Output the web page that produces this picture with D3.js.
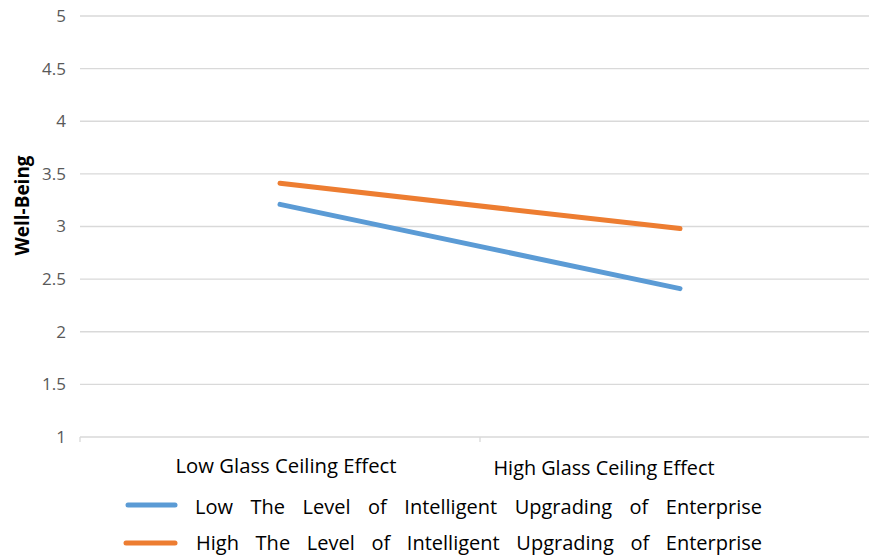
<!DOCTYPE html>
<html>
<head>
<meta charset="utf-8">
<script src="https://cdn.jsdelivr.net/npm/d3@7/dist/d3.min.js"></script>
<style>
  html, body { margin: 0; padding: 0; background: #fff; }
  svg { display: block; }
  text { font-family: "Open Sans", "Liberation Sans", sans-serif; }
</style>
</head>
<body>
<svg id="chart" width="869" height="555"></svg>
<script>
// Simple-slope data: well-being by glass ceiling level, for low/high intelligent upgrading
const categories = ["Low Glass Ceiling Effect", "High Glass Ceiling Effect"];
const seriesNames = [
  "Low  The  Level  of  Intelligent  Upgrading  of  Enterprise",
  "High  The  Level  of  Intelligent  Upgrading  of  Enterprise"
];
const lowUpgrading = [3.21, 2.41];
const highUpgrading = [3.41, 2.98];
const yTicks = [1, 1.5, 2, 2.5, 3, 3.5, 4, 4.5, 5];
const yTitle = "Well-Being";

const colors = ["#5b9bd5", "#ed7d31"];
const series = [lowUpgrading, highUpgrading];

const svg = d3.select("#chart");
const plot = { left: 80, right: 880, top: 16, bottom: 437 };

const x = d3.scaleBand().domain(categories).range([plot.left, plot.right]);
const y = d3.scaleLinear().domain([1, 5]).range([plot.bottom, plot.top]);

// Horizontal gridlines
svg.append("g")
  .selectAll("line")
  .data(yTicks.filter(t => t !== 1))
  .join("line")
  .attr("x1", plot.left).attr("x2", 869)
  .attr("y1", d => y(d)).attr("y2", d => y(d))
  .attr("stroke", "#d9d9d9").attr("stroke-width", 1.3);

// Y axis labels
const yAxis = d3.axisLeft(y).tickValues(yTicks).tickSize(0).tickPadding(14)
  .tickFormat(d3.format("~g"));
const yg = svg.append("g").attr("transform", `translate(${plot.left},0)`).call(yAxis);
yg.select(".domain").remove();
yg.selectAll("text")
  .attr("fill", "#595959")
  .style("font-size", "17px");

// X axis baseline with category boundary ticks
const xg = svg.append("g");
xg.append("line")
  .attr("x1", plot.left).attr("x2", 869)
  .attr("y1", y(1)).attr("y2", y(1))
  .attr("stroke", "#d9d9d9").attr("stroke-width", 1.3);
xg.selectAll("line.tick")
  .data(categories)
  .join("line")
  .attr("class", "tick")
  .attr("x1", d => x(d)).attr("x2", d => x(d))
  .attr("y1", y(1)).attr("y2", y(1) + 5)
  .attr("stroke", "#d9d9d9").attr("stroke-width", 1.3);

// Category labels
const catOffsets = [6, -76];
const catDrop = [36, 38];
xg.selectAll("text.cat")
  .data(categories)
  .join("text")
  .attr("class", "cat")
  .attr("x", (d, i) => x(d) + x.bandwidth() / 2 + catOffsets[i])
  .attr("y", (d, i) => y(1) + catDrop[i])
  .attr("text-anchor", "middle")
  .attr("fill", "#000")
  .attr("textLength", 221)
  .attr("lengthAdjust", "spacingAndGlyphs")
  .style("font-size", "20px")
  .text(d => d);

// Y title
svg.append("text")
  .attr("transform", `translate(29,${y(3.2)}) rotate(-90)`)
  .attr("text-anchor", "middle")
  .attr("textLength", 100)
  .attr("lengthAdjust", "spacingAndGlyphs")
  .style("font-size", "19px")
  .style("font-weight", "bold")
  .attr("fill", "#000")
  .text(yTitle);

// Lines
const line = d3.line()
  .x((d, i) => x(categories[i]) + x.bandwidth() / 2)
  .y(d => y(d));

svg.append("g")
  .selectAll("path")
  .data(series)
  .join("path")
  .attr("d", d => line(d))
  .attr("fill", "none")
  .attr("stroke", (d, i) => colors[i])
  .attr("stroke-width", 5)
  .attr("stroke-linecap", "round");

// Legend
const legend = svg.append("g");
const legendRows = [505, 543];
const legendBaseline = [9, 7];
const legendSampleStart = [128, 126];
const legendTextStart = [195, 196];
const legendTextEnd = 762;
seriesNames.forEach((name, i) => {
  legend.append("line")
    .attr("x1", legendSampleStart[i]).attr("x2", 175)
    .attr("y1", legendRows[i]).attr("y2", legendRows[i])
    .attr("stroke", colors[i]).attr("stroke-width", 5)
    .attr("stroke-linecap", "round");
  const t = legend.append("text")
    .attr("x", legendTextStart[i])
    .attr("y", legendRows[i] + legendBaseline[i])
    .attr("fill", "#000")
    .style("font-size", "20px")
    .text(name.replace(/\s+/g, " "));
  // spread words evenly across the legend row
  const natural = t.node().getComputedTextLength();
  const gaps = name.split(/\s+/).length - 1;
  const extra = (legendTextEnd - legendTextStart[i] - natural) / gaps;
  t.attr("word-spacing", Math.max(0, extra));
});
</script>
</body>
</html>
